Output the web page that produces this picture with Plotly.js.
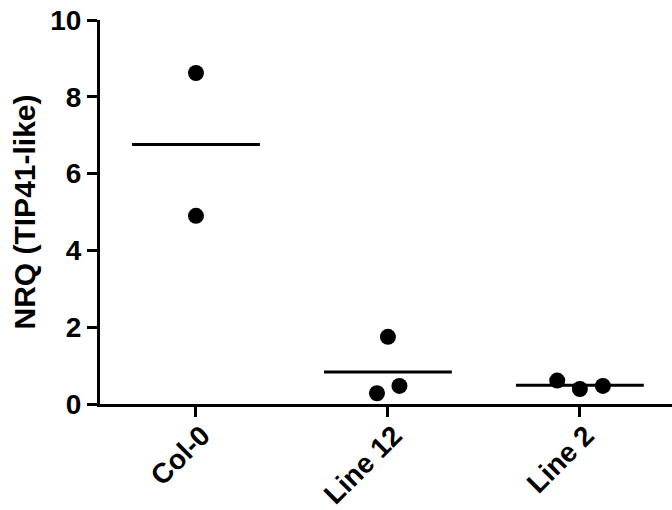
<!DOCTYPE html>
<html>
<head>
<meta charset="utf-8">
<script src="https://cdn.plot.ly/plotly-3.0.1.min.js"></script>
<style>html,body{margin:0;padding:0;background:#fff;}#chart{width:672px;height:510px;}</style>
</head>
<body>
<div id="chart"></div>
<script>
// Data
const categories = ["Col-0", "Line 12", "Line 2"];
const colValues = [8.62, 4.90];
const line12Values = [0.28, 1.75, 0.47];
const line2Values = [0.61, 0.39, 0.47];
const yTickVals = [0, 2, 4, 6, 8, 10];

// Horizontal scatter spread (category units) for each group's points
const colSpread = [0, 0];
const line12Spread = [-0.057, 0, 0.06];
const line2Spread = [-0.118, 0, 0.12];

const groups = [
  {vals: colValues, spread: colSpread},
  {vals: line12Values, spread: line12Spread},
  {vals: line2Values, spread: line2Spread}
];

const FONT = "Liberation Sans, Arial, sans-serif";
const traces = [];
const halfWidth = 0.333;

groups.forEach((g, i) => {
  const mean = g.vals.reduce((a, b) => a + b, 0) / g.vals.length;
  traces.push({
    type: "scatter", mode: "lines",
    x: [i - halfWidth, i + halfWidth], y: [mean, mean],
    line: {color: "#000", width: 3},
    hoverinfo: "skip", showlegend: false
  });
  traces.push({
    type: "scatter", mode: "markers",
    x: g.vals.map((v, k) => i + g.spread[k]), y: g.vals,
    marker: {color: "#000", size: 16},
    showlegend: false
  });
});

const layout = {
  width: 672, height: 510,
  margin: {l: 100, r: 0, t: 20, b: 106},
  paper_bgcolor: "#fff", plot_bgcolor: "#fff",
  showlegend: false,
  font: {family: FONT, color: "#000"},
  xaxis: {
    range: [-0.5, 2.48],
    tickmode: "array",
    tickvals: categories.map((c, i) => i),
    ticktext: categories,
    tickangle: -45,
    ticklabelshift: 6,
    ticklabelstandoff: -9,
    ticks: "outside", ticklen: 10, tickwidth: 3, tickcolor: "#000",
    showline: true, linewidth: 3, linecolor: "#000",
    showgrid: false, zeroline: false, automargin: false,
    tickfont: {family: FONT, size: 28, color: "#000", weight: "bold"}
  },
  yaxis: {
    range: [0, 10],
    tickmode: "array",
    tickvals: yTickVals,
    ticktext: yTickVals.map(String),
    ticks: "outside", ticklen: 10, tickwidth: 3, tickcolor: "#000",
    showline: true, linewidth: 3, linecolor: "#000",
    showgrid: false, zeroline: false, automargin: false,
    tickfont: {family: FONT, size: 28, color: "#000", weight: "bold"},
    title: {text: "NRQ (TIP41-like)", font: {family: FONT, size: 30, color: "#000", weight: "bold"}, standoff: 6}
  }
};

Plotly.newPlot("chart", traces, layout, {displayModeBar: false, staticPlot: true});
</script>
</body>
</html>
